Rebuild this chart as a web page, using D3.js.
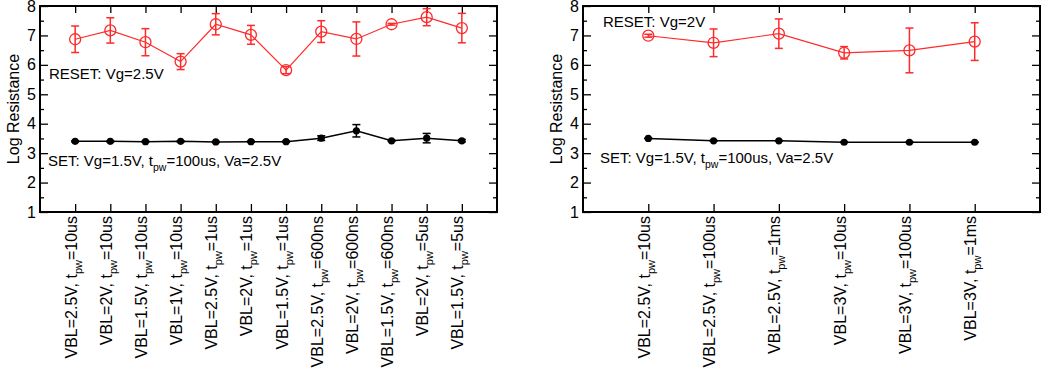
<!DOCTYPE html>
<html>
<head>
<meta charset="utf-8">
<script src="https://cdn.jsdelivr.net/npm/d3@7"></script>
<style>
  html, body { margin: 0; padding: 0; background: #fff; }
  svg { display: block; font-family: "Liberation Sans", Arial, sans-serif; }
</style>
</head>
<body>
<svg id="chart" width="1044" height="378"></svg>
<script>
// ---------- data ----------
const leftVBL  = ["2.5V","2V","1.5V","1V","2.5V","2V","1.5V","2.5V","2V","1.5V","2V","1.5V"];
const leftTpw  = ["10us","10us","10us","10us","1us","1us","1us","600ns","600ns","600ns","5us","5us"];
const leftReset    = [6.87, 7.17, 6.77, 6.11, 7.38, 7.02, 5.82, 7.13, 6.88, 7.38, 7.62, 7.25];
const leftResetErr = [0.45, 0.43, 0.46, 0.27, 0.36, 0.32, 0.12, 0.37, 0.58, 0.03, 0.29, 0.50];
const leftSet      = [3.40, 3.40, 3.39, 3.40, 3.38, 3.39, 3.39, 3.51, 3.76, 3.42, 3.51, 3.42];
const leftSetErr   = [0.02, 0.02, 0.02, 0.02, 0.02, 0.02, 0.02, 0.08, 0.21, 0.02, 0.16, 0.04];

const rightVBL = ["2.5V","2.5V","2.5V","3V","3V","3V"];
const rightTpw = ["10us","100us","1ms","10us","100us","1ms"];
const rightReset    = [6.99, 6.75, 7.06, 6.41, 6.49, 6.79];
const rightResetErr = [0.05, 0.47, 0.50, 0.21, 0.76, 0.64];
const rightSet      = [3.50, 3.42, 3.42, 3.37, 3.37, 3.37];
const rightSetErr   = [0.01, 0.01, 0.01, 0.01, 0.01, 0.01];

const yTicks = [1, 2, 3, 4, 5, 6, 7, 8];
const yMinorTicks = [1.5, 2.5, 3.5, 4.5, 5.5, 6.5, 7.5];
const yLabel = "Log Resistance";

// ---------- drawing ----------
const svg = d3.select("#chart");
const RED = "#ff2a2a";
const yTop = 6, yBottom = 212;

function panel(cfg) {
  const n = cfg.vbl.length;
  const cats = d3.range(n);
  const x = d3.scalePoint().domain(cats).range([cfg.x0, cfg.x1]).padding(1);
  const y = d3.scaleLinear().domain([1, 8]).range([yBottom, yTop]);
  const g = svg.append("g");

  // y axis left
  const yl = g.append("g").attr("transform", `translate(${cfg.x0},0)`)
    .call(d3.axisLeft(y).tickValues(yTicks).tickSizeInner(-8).tickSizeOuter(0).tickPadding(4).tickFormat(d3.format("d")));
  yl.select(".domain").remove();
  yl.selectAll("text").attr("font-size", 16).attr("fill", "#000").attr("font-family", "Liberation Sans, Arial, sans-serif");
  yl.selectAll("line").attr("stroke", "#000").attr("stroke-width", 1.3);
  const ylm = g.append("g").attr("transform", `translate(${cfg.x0},0)`)
    .call(d3.axisLeft(y).tickValues(yMinorTicks).tickSizeInner(-4).tickSizeOuter(0).tickFormat(""));
  ylm.select(".domain").remove();
  ylm.selectAll("line").attr("stroke", "#000").attr("stroke-width", 1.3);

  // y axis right (ticks only)
  const yr = g.append("g").attr("transform", `translate(${cfg.x1},0)`)
    .call(d3.axisRight(y).tickValues(yTicks).tickSizeInner(-8).tickSizeOuter(0).tickFormat(""));
  yr.select(".domain").remove();
  yr.selectAll("line").attr("stroke", "#000").attr("stroke-width", 1.3);
  const yrm = g.append("g").attr("transform", `translate(${cfg.x1},0)`)
    .call(d3.axisRight(y).tickValues(yMinorTicks).tickSizeInner(-4).tickSizeOuter(0).tickFormat(""));
  yrm.select(".domain").remove();
  yrm.selectAll("line").attr("stroke", "#000").attr("stroke-width", 1.3);

  // x axis bottom & top (ticks only)
  const xb = g.append("g").attr("transform", `translate(0,${yBottom})`)
    .call(d3.axisBottom(x).tickSizeInner(-8).tickSizeOuter(0).tickFormat(""));
  xb.select(".domain").remove();
  xb.selectAll("line").attr("stroke", "#000").attr("stroke-width", 1.3);
  const xt = g.append("g").attr("transform", `translate(0,${yTop})`)
    .call(d3.axisTop(x).tickSizeInner(-7).tickSizeOuter(0).tickFormat(""));
  xt.select(".domain").remove();
  xt.selectAll("line").attr("stroke", "#000").attr("stroke-width", 1.3);

  // x labels (rotated, with subscript)
  cats.forEach(i => {
    const t = g.append("text")
      .attr("transform", `translate(${x(i) + 1.5},216) rotate(-90)`)
      .attr("text-anchor", "end")
      .attr("font-size", 16)
      .attr("fill", "#000");
    t.append("tspan").text(`VBL=${cfg.vbl[i]}, t`);
    t.append("tspan").attr("font-size", 11).attr("dy", 5).text("pw");
    t.append("tspan").attr("dy", -5).text(`=${cfg.tpw[i]}`);
  });

  // y label
  g.append("text")
    .attr("transform", `translate(${cfg.x0 - 21},${(yTop + yBottom) / 2}) rotate(-90)`)
    .attr("text-anchor", "middle")
    .attr("font-size", 16)
    .attr("fill", "#000")
    .text(yLabel);

  // series
  const line = d3.line().x((d, i) => x(i)).y(d => y(d));

  function series(vals, errs, color, lw, marker) {
    const s = g.append("g");
    s.append("path").datum(vals).attr("d", line)
      .attr("fill", "none").attr("stroke", color).attr("stroke-width", lw);
    const eb = s.selectAll(".eb").data(vals).enter().append("g");
    eb.append("line")
      .attr("x1", (d, i) => x(i)).attr("x2", (d, i) => x(i))
      .attr("y1", (d, i) => y(d + errs[i])).attr("y2", (d, i) => y(d - errs[i]))
      .attr("stroke", color).attr("stroke-width", 1.5);
    eb.append("line")
      .attr("x1", (d, i) => x(i) - 4).attr("x2", (d, i) => x(i) + 4)
      .attr("y1", (d, i) => y(d + errs[i])).attr("y2", (d, i) => y(d + errs[i]))
      .attr("stroke", color).attr("stroke-width", 1.5);
    eb.append("line")
      .attr("x1", (d, i) => x(i) - 4).attr("x2", (d, i) => x(i) + 4)
      .attr("y1", (d, i) => y(d - errs[i])).attr("y2", (d, i) => y(d - errs[i]))
      .attr("stroke", color).attr("stroke-width", 1.5);
    if (marker === "open") {
      s.selectAll(".m").data(vals).enter().append("circle")
        .attr("cx", (d, i) => x(i)).attr("cy", d => y(d)).attr("r", 5.5)
        .attr("fill", "none").attr("stroke", color).attr("stroke-width", 1.3);
    } else {
      s.selectAll(".m").data(vals).enter().append("circle")
        .attr("cx", (d, i) => x(i)).attr("cy", d => y(d)).attr("r", 3.6)
        .attr("fill", color);
    }
  }
  series(cfg.reset, cfg.resetErr, RED, 1.2, "open");
  series(cfg.set, cfg.setErr, "#000", 1.5, "filled");

  // annotations
  g.append("text").attr("x", cfg.resetAnn[0]).attr("y", cfg.resetAnn[1])
    .attr("font-size", 15).attr("fill", "#000").text(cfg.resetText);
  const st = g.append("text").attr("x", cfg.setAnn[0]).attr("y", cfg.setAnn[1])
    .attr("font-size", 15).attr("fill", "#000");
  st.append("tspan").text("SET: Vg=1.5V, t");
  st.append("tspan").attr("font-size", 10.5).attr("dy", 5).text("pw");
  st.append("tspan").attr("dy", -5).text("=100us, Va=2.5V");

  // frame
  g.append("rect").attr("x", cfg.x0).attr("y", yTop)
    .attr("width", cfg.x1 - cfg.x0).attr("height", yBottom - yTop)
    .attr("fill", "none").attr("stroke", "#000").attr("stroke-width", 2);
}

panel({
  x0: 40, x1: 497, vbl: leftVBL, tpw: leftTpw,
  reset: leftReset, resetErr: leftResetErr, set: leftSet, setErr: leftSetErr,
  resetText: "RESET: Vg=2.5V", resetAnn: [49, 79], setAnn: [48, 166]
});
panel({
  x0: 583, x1: 1040, vbl: rightVBL, tpw: rightTpw,
  reset: rightReset, resetErr: rightResetErr, set: rightSet, setErr: rightSetErr,
  resetText: "RESET: Vg=2V", resetAnn: [603, 27], setAnn: [600, 163]
});
</script>
</body>
</html>
